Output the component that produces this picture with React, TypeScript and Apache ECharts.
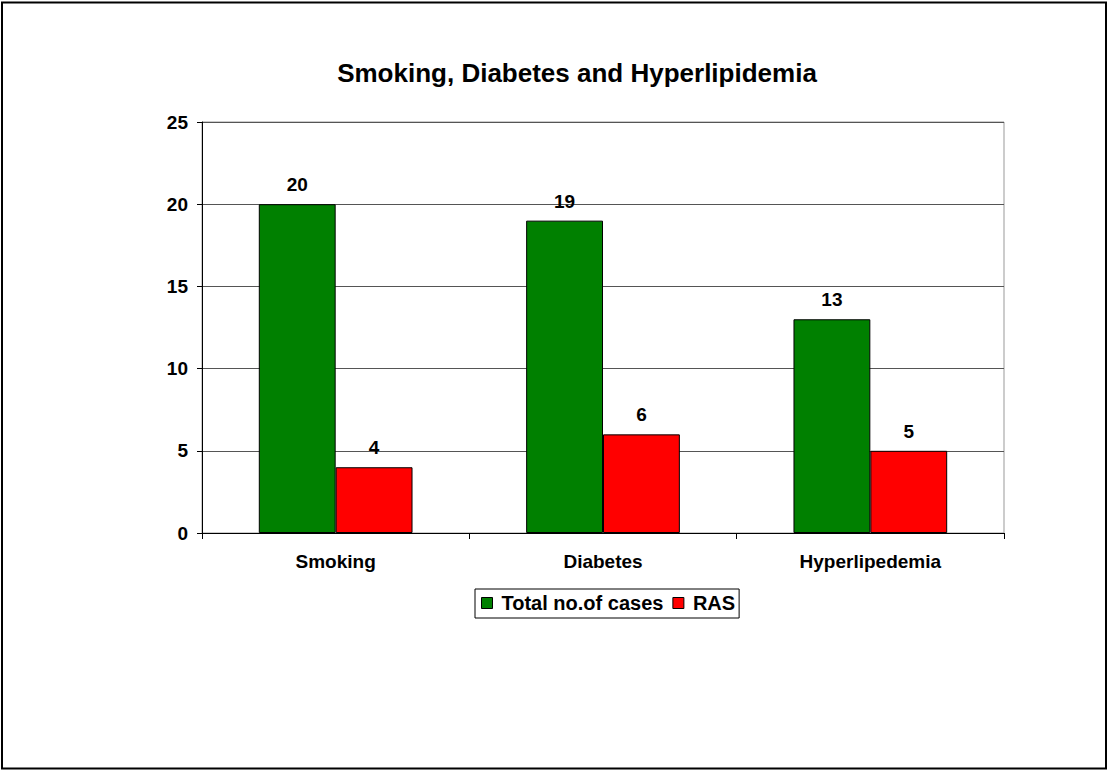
import React, { useEffect, useRef } from "react";
import * as echarts from "echarts";

const categories = ["Smoking", "Diabetes", "Hyperlipedemia"];
const totalCases = [20, 19, 13];
const rasCases = [4, 6, 5];
const seriesNames = ["Total no.of cases", "RAS"];

const FONT = "'Liberation Sans', Arial, sans-serif";

export default function App() {
  const ref = useRef<HTMLDivElement>(null);

  useEffect(() => {
    if (!ref.current) return;
    const chart = echarts.init(ref.current, null, { renderer: "svg" });
    const labelStyle = {
      show: true,
      position: "top" as const,
      distance: 10,
      color: "#000",
      fontFamily: FONT,
      fontWeight: "bold" as const,
      fontSize: 19,
    };
    chart.setOption({
      animation: false,
      backgroundColor: "#fff",
      textStyle: { fontFamily: FONT },
      title: {
        text: "Smoking, Diabetes and Hyperlipidemia",
        left: 572,
        textAlign: "center",
        top: 55,
        textStyle: { fontFamily: FONT, fontWeight: "bold", fontSize: 26, color: "#000" },
      },
      graphic: [
        {
          type: "rect",
          shape: { x: 2, y: 2.5, width: 1104, height: 766 },
          style: { fill: "none", stroke: "#000", lineWidth: 2 },
          silent: true,
        },
      ],
      legend: {
        left: 475,
        top: 589,
        data: seriesNames,
        icon: "rect",
        itemWidth: 11,
        itemHeight: 11,
        itemGap: 9,
        padding: [4, 4, 5, 6],
        borderColor: "#000",
        borderWidth: 1,
        textStyle: {
          fontFamily: FONT,
          fontWeight: "bold",
          fontSize: 20,
          color: "#000",
          padding: [0, 0, 0, 4],
        },
        itemStyle: { borderColor: "#000", borderWidth: 1 },
      },
      grid: {
        left: 202,
        right: 104,
        top: 122,
        bottom: 237,
        show: true,
        borderColor: "#999",
        borderWidth: 1,
      },
      xAxis: {
        type: "category",
        data: categories,
        axisLine: { lineStyle: { color: "#000", width: 1 } },
        axisTick: { show: true, length: 6, lineStyle: { color: "#000" } },
        axisLabel: {
          color: "#000",
          fontFamily: FONT,
          fontWeight: "bold",
          fontSize: 19,
          margin: 19,
        },
      },
      yAxis: {
        type: "value",
        min: 0,
        max: 25,
        interval: 5,
        axisLine: { show: true, lineStyle: { color: "#000", width: 1 } },
        axisTick: { show: true, length: 5, lineStyle: { color: "#000" } },
        axisLabel: {
          color: "#000",
          fontFamily: FONT,
          fontWeight: "bold",
          fontSize: 19,
          margin: 14,
        },
        splitLine: { show: true, lineStyle: { color: "#555", width: 1 } },
      },
      series: [
        {
          name: seriesNames[0],
          type: "bar",
          data: totalCases,
          barGap: "0%",
          barCategoryGap: "42.5%",
          itemStyle: { color: "#008000", borderColor: "#000", borderWidth: 1 },
          label: labelStyle,
        },
        {
          name: seriesNames[1],
          type: "bar",
          data: rasCases,
          itemStyle: { color: "#ff0000", borderColor: "#000", borderWidth: 1 },
          label: labelStyle,
        },
      ],
    });
    return () => chart.dispose();
  }, []);

  return (
    <div
      ref={ref}
      style={{ position: "fixed", left: 0, top: 0, width: 1108, height: 770 }}
    />
  );
}
